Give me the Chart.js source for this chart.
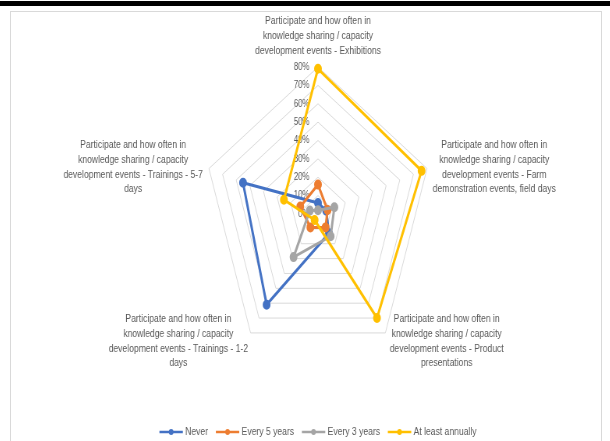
<!DOCTYPE html>
<html>
<head>
<meta charset="utf-8">
<script src="https://cdn.jsdelivr.net/npm/chart.js@4"></script>
<style>
  body { margin: 0; background: #fff; }
  #page { position: relative; width: 610px; height: 441px; overflow: hidden; background: #fff; }
  #topbar { position: absolute; left: 0; top: 1px; width: 610px; height: 5px; background: #000; }
  #frame { position: absolute; left: 10px; top: 11px; width: 590px; height: 440px; border: 1px solid #d9d9d9; }
  /* the source picture is squeezed sideways, so the chart is too */
  #wrap { position: absolute; left: 13px; top: 0; width: 782px; height: 441px; transform: scaleX(0.78); transform-origin: 0 0; }
</style>
</head>
<body>
<div id="page">
  <div id="topbar"></div>
  <div id="frame"></div>
  <div id="wrap"><canvas id="chart"></canvas></div>
</div>
<script>
const categories = [
  ['Participate and how often in', 'knowledge sharing / capacity', 'development events - Exhibitions'],
  ['Participate and how often in', 'knowledge sharing / capacity', 'development events - Farm', 'demonstration events, field days'],
  ['Participate and how often in', 'knowledge sharing / capacity', 'development events - Product', 'presentations'],
  ['Participate and how often in', 'knowledge sharing / capacity', 'development events - Trainings - 1-2', 'days'],
  ['Participate and how often in', 'knowledge sharing / capacity', 'development events - Trainings - 5-7', 'days']
]
const seriesNames = ['Never', 'Every 5 years', 'Every 3 years', 'At least annually']
const never = [6, 6, 13, 61, 55]
const every5 = [16, 7, 9, 9, 13]
const every3 = [2, 12, 15, 29, 6]
const annually = [79, 76, 70, 4, 25]
const tickLabels = ['0%', '10%', '20%', '30%', '40%', '50%', '60%', '70%', '80%']

const colors = ['#4472C4', '#ED7D31', '#A5A5A5', '#FFC000']
const font = '"Liberation Sans", Arial, sans-serif'

//where the axis titles sit, relative to the centre of the web
const titleSpots = [
  {dx: 0, dy: -193},
  {dx: 226, dy: -69},
  {dx: 165, dy: 105},
  {dx: -179, dy: 105},
  {dx: -237, dy: -69}
]

const excelText = {
  id: 'excelText',
  beforeDatasetsDraw(chart) {
    const {ctx} = chart
    const r = chart.scales.r
    ctx.save()
    ctx.font = '10px ' + font
    ctx.fillStyle = '#595959'
    ctx.textAlign = 'right'
    ctx.textBaseline = 'middle'
    r.ticks.forEach((t, i) => {
      ctx.fillText(tickLabels[i], r.xCenter - 11, r.yCenter - r.getDistanceFromCenterForValue(t.value))
    })
    ctx.restore()
  },
  afterDraw(chart) {
    const {ctx} = chart
    const r = chart.scales.r
    ctx.save()
    ctx.font = '11px ' + font
    ctx.fillStyle = '#595959'
    ctx.textAlign = 'center'
    ctx.textBaseline = 'middle'
    categories.forEach((lines, i) => {
      const spot = titleSpots[i]
      lines.forEach((line, k) => {
        ctx.fillText(line, r.xCenter + spot.dx, r.yCenter + spot.dy + k * 14.8)
      })
    })

    //legend: line with a dot, then the name
    const widths = seriesNames.map(n => 33 + ctx.measureText(n).width)
    const total = widths.reduce((a, b) => a + b, 0) + 10 * (widths.length - 1)
    let x = r.xCenter - total / 2
    const y = 432
    ctx.textAlign = 'left'
    seriesNames.forEach((name, i) => {
      ctx.strokeStyle = colors[i]
      ctx.fillStyle = colors[i]
      ctx.lineWidth = 2.5
      ctx.beginPath()
      ctx.moveTo(x, y)
      ctx.lineTo(x + 30, y)
      ctx.stroke()
      ctx.beginPath()
      ctx.arc(x + 15, y, 3, 0, Math.PI * 2)
      ctx.fill()
      ctx.fillStyle = '#595959'
      ctx.fillText(name, x + 33, y)
      x += widths[i] + 10
    })
    ctx.restore()
  }
}

const values = [never, every5, every3, annually]

new Chart(document.getElementById('chart'), {
  type: 'radar',
  data: {
    labels: categories,
    datasets: seriesNames.map((name, i) => ({
      label: name,
      data: values[i],
      borderColor: colors[i],
      backgroundColor: colors[i],
      pointBackgroundColor: colors[i],
      pointBorderColor: colors[i],
      pointRadius: 3.5,
      borderWidth: 3,
      fill: false,
      order: seriesNames.length - i
    }))
  },
  options: {
    responsive: true,
    maintainAspectRatio: false,
    animation: false,
    layout: {
      padding: {top: 67, bottom: 80, left: 0, right: 0}
    },
    plugins: {
      legend: {display: false},
      tooltip: {enabled: false}
    },
    scales: {
      r: {
        min: 0,
        max: 80,
        ticks: {display: false, stepSize: 10},
        pointLabels: {display: false},
        angleLines: {display: false},
        grid: {color: '#D9D9D9', lineWidth: 1}
      }
    }
  },
  plugins: [excelText]
})
</script>
</body>
</html>
